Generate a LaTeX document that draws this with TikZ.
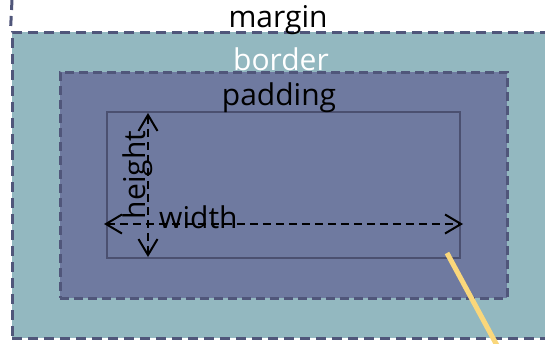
\documentclass[tikz,border=0pt]{standalone}
\usepackage{fontspec}
\setmainfont{Open Sans}
\usetikzlibrary{arrows.meta}

\definecolor{bordercol}{HTML}{93B8C0}
\definecolor{paddingcol}{HTML}{6F7AA0}
\definecolor{edgecol}{HTML}{50567A}
\definecolor{contentcol}{HTML}{4B5070}
\definecolor{pointercol}{HTML}{FAD77B}

\begin{document}
\begin{tikzpicture}[x=1pt, y=-1pt,
                    box/.style={rectangle, inner sep=0pt},
                    boxtext/.style={font=\fontsize{30}{36}\selectfont, inner sep=0pt},
                    dimline/.style={line width=2pt, dash pattern=on 8pt off 5pt,
                                    {Straight Barb[length=16pt,width=19pt]}-{Straight Barb[length=16pt,width=19pt]}}]
   %\draw[help lines] (0,0) grid (545,343);
   \useasboundingbox (0,0) rectangle (545,343);
   \fill[white] (0,0) rectangle (545,343);

   % the boxes
   \node[box, fill=bordercol, draw=edgecol, line width=3pt, dash pattern=on 10pt off 6pt,
         minimum width=548pt, minimum height=306pt] (border) at (286,185) {};
   \node[box, fill=paddingcol, draw=edgecol, line width=3pt, dash pattern=on 9pt off 5pt,
         minimum width=447pt, minimum height=226pt] (padding) at (283.5,185) {};
   \node[box, draw=contentcol, line width=2pt,
         minimum width=353pt, minimum height=146pt] (content) at (283.5,185) {};

   \coordinate (margin_top) at (12,0);
   \draw[edgecol, line width=3pt, dash pattern=on 10pt off 6pt] (margin_top) -- (border.north west);

   % labels
   \node[boxtext, anchor=base] (margin) at (278,27) {margin};
   \node[boxtext, anchor=base, text=white] (border_text) at (281,70) {border};
   \node[boxtext, anchor=base] (padding_text) at (279,105) {padding};

   % measures
   \coordinate (h_top) at (148,113);
   \coordinate (h_bottom) at (148,257);
   \coordinate (w_left) at (104,224);
   \coordinate (w_right) at (463,224);
   \draw[dimline] (h_top) -- (h_bottom);
   \draw[dimline] (w_left) -- (w_right);
   \node[boxtext, anchor=base west] (width) at (159,228) {width};
   \node[boxtext, anchor=base, rotate=90] (height) at (145,175) {height};

   % pointer
   \coordinate (pointer_in) at (447,253);
   \coordinate (pointer_out) at (500,351);
   \draw[pointercol, line width=5pt] (pointer_in) -- (pointer_out);
\end{tikzpicture}
\end{document}
